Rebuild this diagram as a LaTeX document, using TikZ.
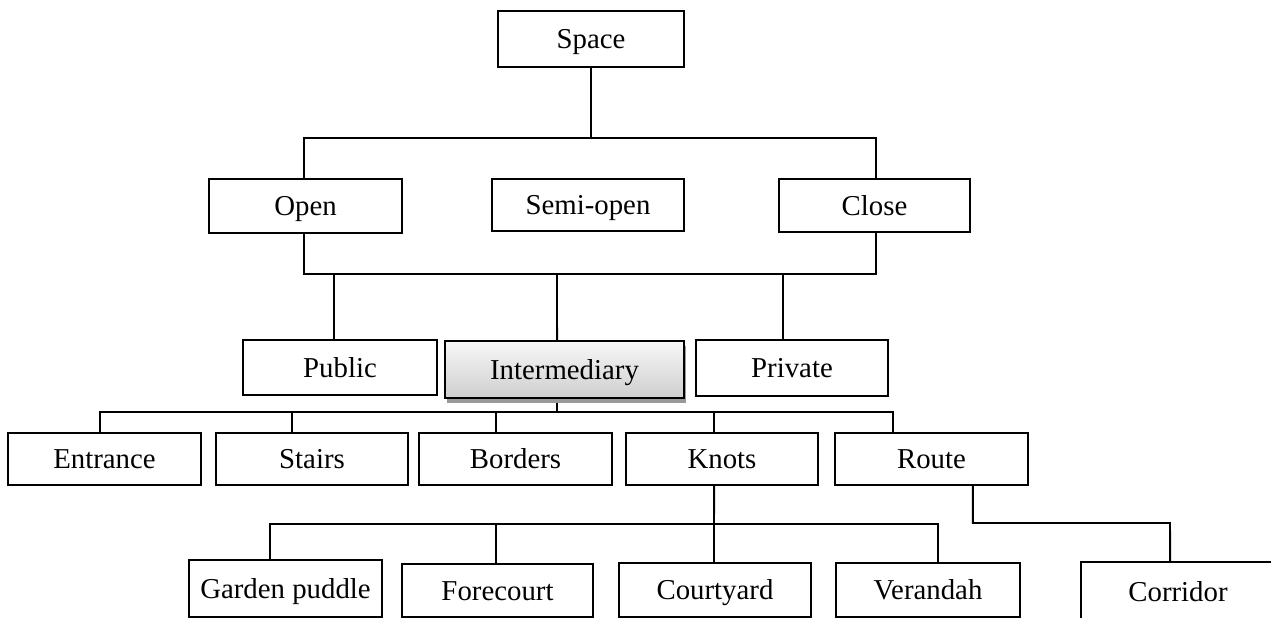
\documentclass[tikz,border=0pt]{standalone}
\usepackage{fontspec}
\setmainfont{Liberation Serif}
\usetikzlibrary{shadows,backgrounds}

\begin{document}
\begin{tikzpicture}[x=0.02cm,y=-0.02cm,
  box/.style={draw,fill=white,line width=0.7pt,inner sep=0pt,minimum width=3.84cm,minimum height=1.06cm,
    text height=13pt,text depth=2pt,font=\fontsize{16.4pt}{19pt}\selectfont},
  link/.style={line width=1.1pt}]
  \useasboundingbox (0,0) rectangle (1271,618);
  % top
  \node[box,minimum width=3.72cm,minimum height=1.12cm] (space) at (591,39) {Space};
  % level 1
  \node[box,minimum width=3.86cm,minimum height=1.08cm] (open) at (305.5,206) {Open};
  \node[box,minimum height=1.04cm] (semi) at (588,205) {Semi-open};
  \node[box,minimum width=3.82cm] (close) at (874.5,205.5) {Close};
  % level 2
  \node[box,minimum width=3.88cm,minimum height=1.10cm] (public) at (340,367.5) {Public};
  \node[box,minimum width=4.78cm,minimum height=1.14cm,top color=gray!6,bottom color=gray!38,
    drop shadow={shadow xshift=1.2pt,shadow yshift=-2.8pt,fill=gray!80,opacity=1}] (interm) at (564.5,369.5) {Intermediary};
  \node[box,minimum height=1.12cm] (private) at (792,368) {Private};
  % level 3
  \node[box,minimum width=3.86cm,minimum height=1.04cm] (entrance) at (104.5,459) {Entrance};
  \node[box,minimum height=1.04cm] (stairs) at (312,459) {Stairs};
  \node[box,minimum width=3.86cm,minimum height=1.04cm] (borders) at (515.5,459) {Borders};
  \node[box,minimum height=1.04cm] (knots) at (722,459) {Knots};
  \node[box,minimum width=3.86cm,minimum height=1.04cm] (route) at (931.5,459) {Route};
  % level 4
  \node[box,minimum width=3.86cm,minimum height=1.14cm,
    drop shadow={shadow xshift=0.6pt,shadow yshift=-0.8pt,fill=gray!70,opacity=1}] (garden) at (285.5,588.5) {Garden puddle};
  \node[box,minimum width=3.82cm] (forecourt) at (497.5,590.5) {Forecourt};
  \node[box,minimum height=1.08cm] (courtyard) at (715,590) {Courtyard};
  \node[box,minimum width=3.68cm,minimum height=1.08cm] (verandah) at (928,590) {Verandah};
  \node[box,minimum width=3.88cm,minimum height=1.2cm] (corridor) at (1178,592) {Corridor};

  \coordinate (b1) at (591,138);
  \coordinate (b2) at (557,274);
  \coordinate (b3) at (557,412);
  \coordinate (b4) at (714,524);
  \coordinate (b5) at (1170,523);

  \begin{scope}[on background layer]
    \draw[link] (space.south) -- (b1);
    \draw[link] ([xshift=-0.85pt]open.north) |- (b1) -| ([xshift=0.85pt]close.north);
    \draw[link] ([xshift=-0.85pt]open.south) |- (b2) -| ([xshift=0.85pt]close.south);
    \draw[link] ([xshift=-3.4pt]public.north) |- (b2);
    \draw[link] ([xshift=-4.25pt]interm.north) -- (b2);
    \draw[link] ([xshift=-5.1pt]private.north) |- (b2);

    \draw[link] ([xshift=-4.25pt]interm.south) -- (b3);
    \draw[link] ([xshift=-2.55pt]entrance.north) |- (b3) -| ([xshift=-21.8pt]route.north);
    \draw[link] ([xshift=-11.3pt]stairs.north) |- (b3);
    \draw[link] ([xshift=-11pt]borders.north) |- (b3);
    \draw[link] ([xshift=-4.5pt]knots.north) |- (b3);

    \draw[link] ([xshift=-4.5pt]knots.south) -- (b4);
    \draw[link] ([xshift=-8.8pt]garden.north) |- (b4) -| ([xshift=5.7pt]verandah.north);
    \draw[link] ([xshift=-0.85pt]forecourt.north) |- (b4);
    \draw[link] ([xshift=-0.6pt]courtyard.north) |- (b4);

    \draw[link] ([xshift=23.5pt]route.south) |- (b5) -- ([xshift=-4.5pt]corridor.north);
  \end{scope}
\end{tikzpicture}
\end{document}
